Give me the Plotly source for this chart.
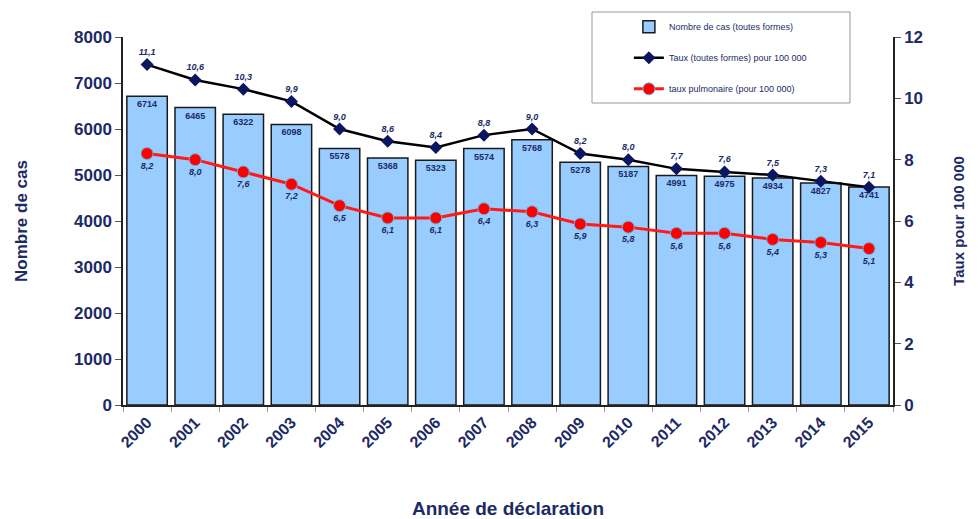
import plotly.graph_objects as go

annees = ["2000", "2001", "2002", "2003", "2004", "2005", "2006", "2007",
          "2008", "2009", "2010", "2011", "2012", "2013", "2014", "2015"]
nombre_cas = [6714, 6465, 6322, 6098, 5578, 5368, 5323, 5574,
              5768, 5278, 5187, 4991, 4975, 4934, 4827, 4741]
taux_total = [11.1, 10.6, 10.3, 9.9, 9.0, 8.6, 8.4, 8.8,
              9.0, 8.2, 8.0, 7.7, 7.6, 7.5, 7.3, 7.1]
taux_pulmo = [8.2, 8.0, 7.6, 7.2, 6.5, 6.1, 6.1, 6.4,
              6.3, 5.9, 5.8, 5.6, 5.6, 5.4, 5.3, 5.1]

navy = "#1c2a66"
fam = "Liberation Sans, Arial, sans-serif"

def fr(v):
    return f"{v:.1f}".replace(".", ",")

fig = go.Figure()
fig.add_trace(go.Bar(
    x=annees, y=nombre_cas, name="Nombre de cas (toutes formes)",
    marker=dict(color="#99ccff", line=dict(color="#1a1a1a", width=1.5)),
    text=[str(v) for v in nombre_cas], textposition="inside",
    insidetextanchor="end", textangle=0,
    textfont=dict(family=fam, size=9, color=navy, weight="bold"),
    legendgroup="a", yaxis="y",
))
fig.add_trace(go.Scatter(
    x=annees, y=taux_total, name="Taux (toutes formes) pour 100 000",
    mode="lines+markers+text",
    line=dict(color="#000000", width=2.5),
    marker=dict(symbol="diamond", size=10, color="#0a1660"),
    text=[fr(v) for v in taux_total], textposition="top center",
    textfont=dict(family=fam, size=9, color=navy, style="italic", weight="bold"),
    legendgroup="b", yaxis="y2",
))
fig.add_trace(go.Scatter(
    x=annees, y=taux_pulmo, name="taux pulmonaire (pour 100 000)",
    mode="lines+markers+text",
    line=dict(color="#ff1a1a", width=3),
    marker=dict(symbol="circle", size=12, color="#ff0000",
                line=dict(color="#66b3e6", width=1)),
    text=[fr(v) for v in taux_pulmo], textposition="bottom center",
    textfont=dict(family=fam, size=9, color=navy, style="italic", weight="bold"),
    legendgroup="c", yaxis="y2",
))

fig.update_layout(
    width=970, height=511,
    margin=dict(l=115, r=85, t=29, b=114, autoexpand=False),
    paper_bgcolor="white", plot_bgcolor="white",
    font=dict(family=fam, color=navy),
    bargap=0.16,
    showlegend=True,
    legend=dict(x=0.657, y=1.067, xanchor="left", yanchor="top",
                bgcolor="rgba(0,0,0,0)", traceorder="grouped",
                tracegroupgap=12,
                font=dict(family=fam, size=9, color=navy)),
    xaxis=dict(
        type="category", tickangle=-45, range=[-0.5, 15.5],
        tickfont=dict(family=fam, size=16, color=navy, weight="bold"),
        showline=True, linecolor="#222222", linewidth=1.5,
        ticks="outside", ticklen=5, tickcolor="#999999", tickson="boundaries",
        showgrid=False,
        title=dict(text="Année de déclaration", standoff=54,
                   font=dict(family=fam, size=19, color=navy, weight="bold")),
    ),
    yaxis=dict(
        range=[0, 8000], dtick=1000, showgrid=False,
        showline=True, linecolor="#222222", linewidth=1.5,
        ticks="outside", ticklen=6, tickcolor="#555555",
        tickfont=dict(family=fam, size=17, color=navy, weight="bold"),
        title=dict(text="Nombre de cas", standoff=42,
                   font=dict(family=fam, size=17, color=navy, weight="bold")),
    ),
    yaxis2=dict(
        range=[0, 12], dtick=2, overlaying="y", side="right", showgrid=False,
        showline=True, linecolor="#222222", linewidth=1.5,
        ticks="outside", ticklen=6, tickcolor="#555555",
        tickfont=dict(family=fam, size=17, color=navy, weight="bold"),
        title=dict(text="Taux pour 100 000", standoff=31,
                   font=dict(family=fam, size=15, color=navy, weight="bold")),
    ),
    shapes=[dict(type="rect", xref="paper", yref="paper",
                 x0=(592 - 123) / 770, x1=(850 - 123) / 770,
                 y0=(405 - 103) / 368, y1=(405 - 12) / 368,
                 line=dict(color="#999999", width=1), fillcolor="rgba(0,0,0,0)")],
)

fig.write_html("out.html")
